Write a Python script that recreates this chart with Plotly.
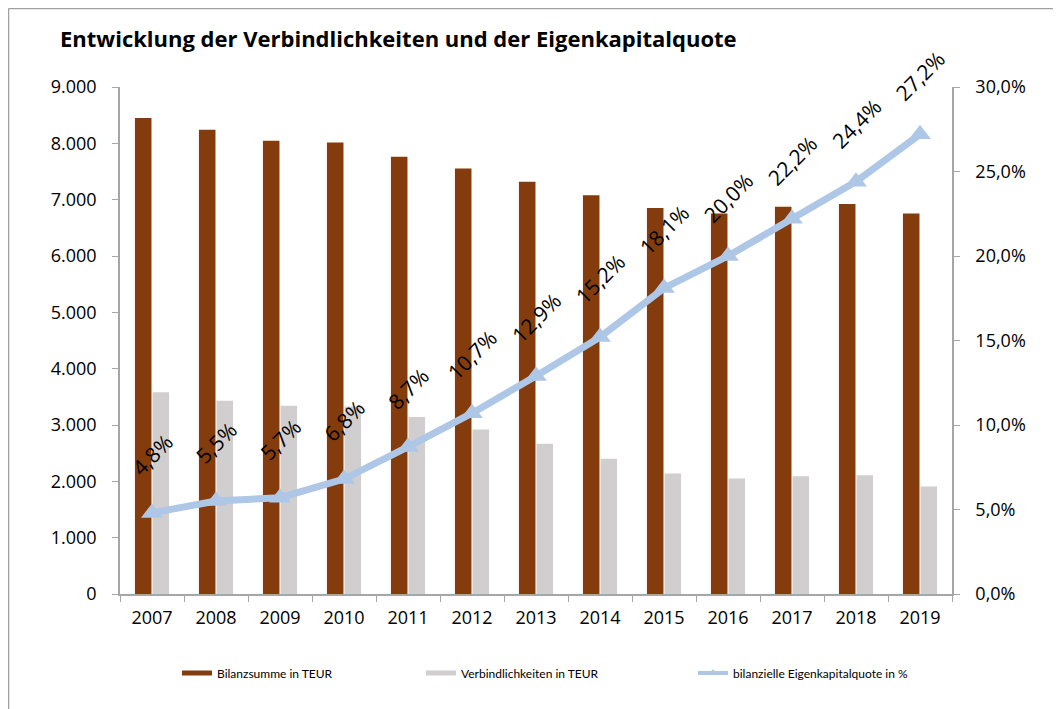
import plotly.graph_objects as go

years = ["2007", "2008", "2009", "2010", "2011", "2012", "2013",
         "2014", "2015", "2016", "2017", "2018", "2019"]
bilanzsumme = [8450, 8240, 8045, 8015, 7760, 7555, 7320, 7080, 6850, 6755, 6875, 6925, 6755]
verbindlichkeiten = [3580, 3430, 3340, 3330, 3140, 2920, 2665, 2400, 2140, 2050, 2090, 2110, 1910]
ek_quote = [4.8, 5.5, 5.7, 6.8, 8.7, 10.7, 12.9, 15.2, 18.1, 20.0, 22.2, 24.4, 27.2]

name_bil = "Bilanzsumme in TEUR"
name_verb = "Verbindlichkeiten in TEUR"
name_ek = "bilanzielle Eigenkapitalquote in %"

C_BROWN = "#843C0C"
C_GREY = "#D0CECE"
C_BLUE = "#AEC7E7"
C_AXIS = "#A6A6A6"
FONT = "Open Sans"
LFONT = "Lato"

# the page body adds an 8px offset; work in screen pixels and subtract it
OFF = 8
W, H = 1061 - OFF, 709 - OFF
ML, MR, MT, MB = 120 - OFF, 1061 - 952, 87 - OFF, 709 - 594
PW, PH = W - ML - MR, H - MT - MB


def px_x(px):
    return (px - OFF - ML) / PW


def px_y(py):
    return (H - MB - (py - OFF)) / PH


fig = go.Figure()
fig.add_trace(go.Bar(x=years, y=bilanzsumme, name=name_bil, marker=dict(color=C_BROWN, line=dict(width=0)),
                     showlegend=False))
fig.add_trace(go.Bar(x=years, y=verbindlichkeiten, name=name_verb, marker=dict(color=C_GREY, line=dict(width=0)),
                     showlegend=False))
fig.add_trace(go.Scatter(x=years, y=ek_quote, name=name_ek, yaxis="y2", mode="lines+markers",
                         line=dict(color=C_BLUE, width=7),
                         marker=dict(symbol="triangle-up", size=19, color=C_BLUE),
                         showlegend=False))

# legend entries (one legend per entry, spaced like the original)
fig.add_trace(go.Scatter(x=[years[0]], y=[None], name=name_bil, mode="lines",
                         line=dict(color=C_BROWN, width=5), legend="legend"))
fig.add_trace(go.Scatter(x=[years[0]], y=[None], name=name_verb, mode="lines",
                         line=dict(color=C_GREY, width=5), legend="legend2"))
fig.add_trace(go.Scatter(x=[years[0]], y=[None], name=name_ek, mode="lines+markers", yaxis="y2",
                         line=dict(color=C_BLUE, width=4),
                         marker=dict(symbol="triangle-up", size=8, color=C_BLUE), legend="legend3"))

# rotated data labels (category index on the x axis)
for i, v in enumerate(ek_quote):
    fig.add_annotation(x=i, y=v, xref="x", yref="y2", text=f"{v:.1f}%".replace(".", ","),
                       showarrow=False, textangle=-45, yshift=58,
                       font=dict(family=FONT, size=21, color="#000000"))

leg_common = dict(orientation="h", yanchor="middle", xanchor="left",
                  font=dict(family=LFONT, size=12, color="#000000"),
                  bgcolor="rgba(0,0,0,0)", borderwidth=0)

fig.update_layout(
    width=W, height=H,
    margin=dict(l=ML, r=MR, t=MT, b=MB, pad=0, autoexpand=False),
    paper_bgcolor="white", plot_bgcolor="white",
    separators=",.",
    barmode="group", bargap=0.45, bargroupgap=0.06,
    title=dict(text="<b>Entwicklung der Verbindlichkeiten und der Eigenkapitalquote</b>",
               x=(60 - OFF) / W, xanchor="left", xref="container",
               y=1 - (39 - OFF) / H, yanchor="middle", yref="container",
               font=dict(family=FONT, size=22, color="#000000")),
    xaxis=dict(type="category", categoryorder="array", categoryarray=years,
               range=[-0.5, len(years) - 0.5], autorange=False,
               showline=True, linecolor=C_AXIS, linewidth=1.5,
               ticks="outside", tickson="boundaries", ticklen=6, tickcolor=C_AXIS,
               tickfont=dict(family=FONT, size=18, color="#000000"), tickangle=0,
               ticklabelstandoff=7, showgrid=False, zeroline=False, automargin=False),
    yaxis=dict(range=[0, 9000], dtick=1000, tickformat=",d", showline=True, linecolor=C_AXIS,
               linewidth=1.5, ticks="outside", ticklen=6, tickcolor=C_AXIS,
               tickfont=dict(family=FONT, size=18, color="#000000"),
               ticklabelstandoff=12, showgrid=False, zeroline=False, automargin=False),
    yaxis2=dict(range=[0, 30], dtick=5, tickformat=".1f", ticksuffix="%", overlaying="y", side="right",
                showline=True, linecolor=C_AXIS, linewidth=1.5, ticks="outside", ticklen=6,
                tickcolor=C_AXIS, tickfont=dict(family=FONT, size=18, color="#000000"),
                ticklabelstandoff=12, showgrid=False, zeroline=False, automargin=False),
    legend=dict(x=px_x(177), y=px_y(673), **leg_common),
    legend2=dict(x=px_x(421), y=px_y(673), **leg_common),
    legend3=dict(x=px_x(693), y=px_y(673), **leg_common),
)

# chart frame (top and left edges visible in the original crop)
fig.add_shape(type="line", xref="paper", yref="paper", x0=px_x(8.5), x1=px_x(1070), y0=px_y(8.5), y1=px_y(8.5),
              line=dict(color="#A0A0A0", width=1.5))
fig.add_shape(type="line", xref="paper", yref="paper", x0=px_x(8.5), x1=px_x(8.5), y0=px_y(8.5), y1=px_y(720),
              line=dict(color="#A0A0A0", width=1.5))

fig.write_html("out.html")
